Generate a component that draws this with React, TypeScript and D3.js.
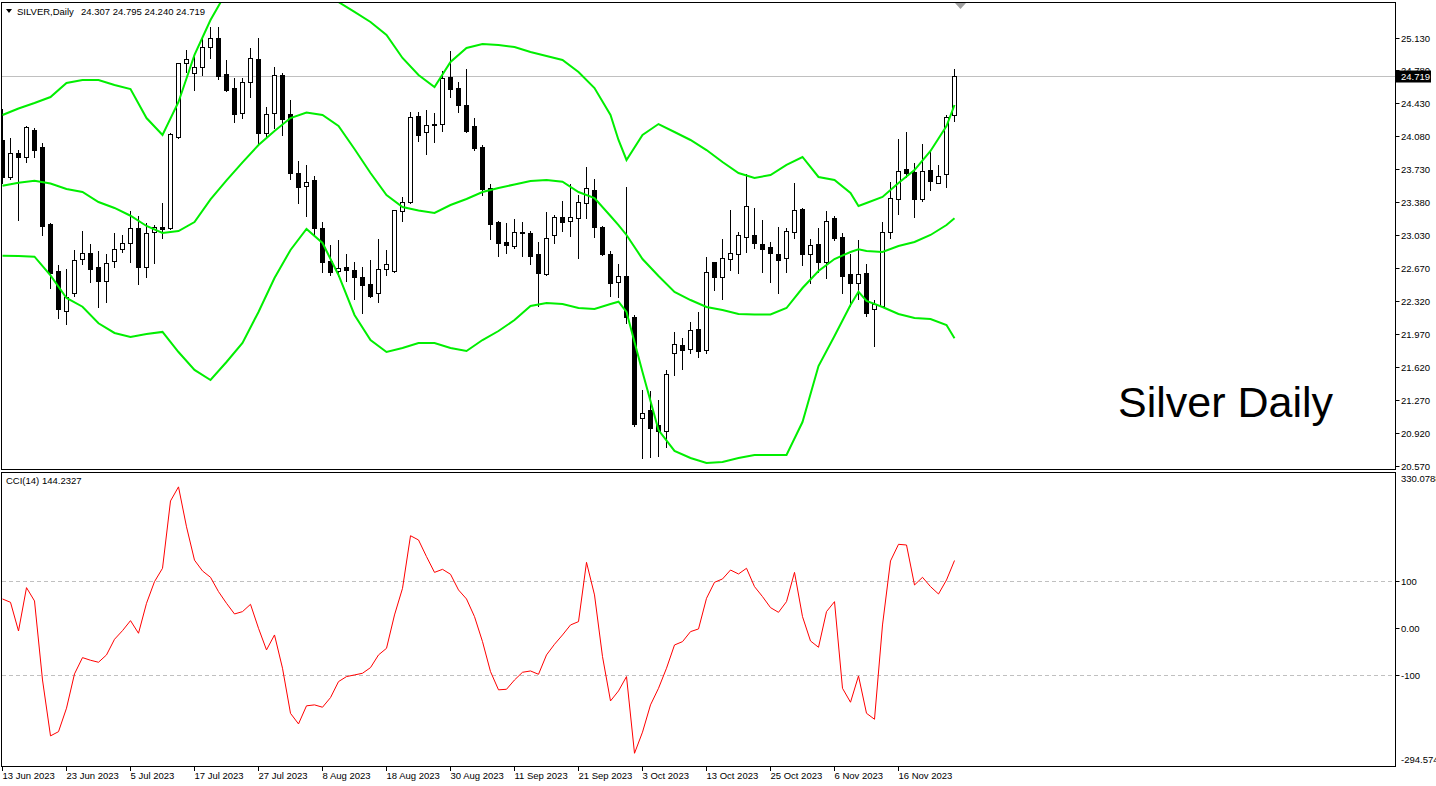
import * as d3 from 'd3';

// price data, one entry per daily bar (13 Jun 2023 .. 27 Nov 2023)
const opens = [
  24.038, 23.641, 23.903, 23.854, 24.144, 23.960, 23.143, 22.639, 22.219, 22.411,
  22.767, 22.831, 22.682, 22.539, 22.746, 22.873, 22.937, 23.097, 22.682, 23.055,
  23.114, 23.097, 24.073, 24.855, 24.755, 24.813, 25.032, 25.128, 24.741, 24.589,
  24.322, 24.659, 24.898, 24.109, 24.322, 24.730, 24.315, 23.683, 23.551, 23.612,
  23.097, 22.749, 22.646, 22.682, 22.653, 22.575, 22.504, 22.405, 22.660, 22.646,
  23.285, 23.381, 24.294, 24.120, 24.203, 24.205, 24.706, 24.589, 24.411, 24.187,
  23.963, 23.523, 23.161, 22.948, 22.909, 23.058, 23.044, 22.820, 22.607, 23.026,
  23.221, 23.172, 23.204, 23.364, 23.505, 23.108, 22.820, 22.522, 22.592, 22.149,
  21.073, 21.161, 20.998, 20.941, 21.765, 21.854, 21.808, 22.021, 21.801, 22.735,
  22.582, 22.773, 22.820, 23.008, 23.026, 22.930, 22.895, 22.823, 22.778, 23.061,
  23.300, 22.820, 22.927, 22.741, 23.204, 23.001, 22.607, 22.511, 22.618, 22.234,
  22.269, 23.061, 23.406, 23.726, 23.694, 23.406, 23.718, 23.583, 23.673, 24.307,
];
const highs = [
  24.365, 24.056, 23.931, 24.187, 24.163, 24.003, 23.150, 22.706, 22.664, 22.866,
  23.068, 22.930, 22.855, 22.823, 23.044, 23.026, 23.282, 23.228, 23.150, 23.132,
  23.370, 24.109, 24.862, 24.997, 24.919, 25.146, 25.245, 25.245, 24.890, 24.699,
  24.695, 25.015, 25.121, 24.386, 24.819, 24.749, 24.464, 23.814, 23.772, 23.654,
  23.161, 22.919, 22.973, 22.823, 22.735, 22.682, 22.760, 22.983, 22.866, 23.297,
  23.434, 24.339, 24.339, 24.358, 24.329, 24.773, 24.986, 24.659, 24.794, 24.269,
  23.985, 23.569, 23.175, 23.150, 23.193, 23.164, 23.068, 22.948, 23.268, 23.239,
  23.391, 23.566, 23.452, 23.747, 23.622, 23.122, 22.859, 22.714, 23.534, 22.174,
  21.374, 21.364, 21.268, 21.588, 21.992, 21.925, 22.096, 22.209, 22.788, 22.738,
  22.983, 23.292, 23.055, 23.673, 23.310, 23.186, 22.954, 23.108, 23.097, 23.577,
  23.310, 22.980, 23.097, 23.282, 23.228, 23.044, 22.823, 22.973, 22.717, 22.333,
  23.161, 23.587, 24.049, 24.126, 23.790, 23.995, 23.921, 23.772, 24.304, 24.795,
];
const lows = [
  23.577, 23.622, 23.186, 23.807, 23.860, 23.026, 22.464, 22.145, 22.078, 22.376,
  22.714, 22.528, 22.256, 22.315, 22.682, 22.848, 22.741, 22.501, 22.582, 22.724,
  22.991, 23.087, 24.062, 24.766, 24.571, 24.730, 24.908, 24.685, 24.563, 24.233,
  24.269, 24.491, 24.003, 24.081, 24.163, 24.091, 23.619, 23.370, 23.231, 23.037,
  22.635, 22.600, 22.589, 22.539, 22.341, 22.198, 22.362, 22.315, 22.600, 22.635,
  23.178, 23.370, 24.031, 23.889, 24.020, 24.137, 24.499, 24.339, 24.126, 23.931,
  23.452, 22.980, 22.805, 22.831, 22.884, 22.805, 22.714, 22.273, 22.600, 22.937,
  23.068, 23.018, 22.784, 23.204, 23.008, 22.813, 22.379, 22.369, 22.085, 20.994,
  20.653, 20.664, 20.675, 20.770, 21.534, 21.598, 21.765, 21.723, 21.772, 22.440,
  22.341, 22.653, 22.618, 22.848, 22.884, 22.635, 22.528, 22.411, 22.635, 22.997,
  22.706, 22.511, 22.628, 22.564, 22.973, 22.405, 22.273, 22.341, 22.163, 21.846,
  22.262, 22.997, 23.250, 23.641, 23.214, 23.391, 23.505, 23.577, 23.534, 24.240,
];
const closes = [
  23.641, 23.896, 23.854, 24.173, 23.931, 23.125, 22.624, 22.234, 22.369, 22.760,
  22.831, 22.660, 22.539, 22.724, 22.880, 22.937, 23.097, 22.688, 23.044, 23.114,
  23.093, 24.099, 24.855, 24.898, 24.813, 25.032, 25.130, 24.720, 24.571, 24.320,
  24.661, 24.908, 24.109, 24.315, 24.730, 24.262, 23.690, 23.540, 23.594, 23.097,
  22.741, 22.635, 22.671, 22.653, 22.575, 22.493, 22.376, 22.660, 22.714, 23.292,
  23.374, 24.280, 24.091, 24.198, 24.208, 24.695, 24.581, 24.411, 24.137, 23.956,
  23.513, 23.140, 22.937, 22.916, 23.055, 23.044, 22.805, 22.618, 22.991, 23.221,
  23.168, 23.214, 23.374, 23.523, 23.108, 22.820, 22.518, 22.592, 22.155, 21.012,
  21.126, 20.973, 20.941, 21.545, 21.865, 21.801, 22.014, 21.793, 22.628, 22.582,
  22.778, 22.831, 23.026, 23.335, 22.944, 22.880, 22.831, 22.760, 23.072, 23.289,
  22.820, 22.916, 22.741, 23.172, 22.997, 22.592, 22.518, 22.607, 22.198, 22.288,
  23.061, 23.417, 23.711, 23.690, 23.406, 23.711, 23.604, 23.654, 24.286, 24.719,
];

// Bollinger bands read at these bar indices
const bandIdx = [
  0, 2, 4, 6, 8, 10, 12, 14, 16, 18, 20, 22, 24, 26, 28, 30, 32, 34, 36, 38,
  40, 42, 44, 46, 48, 50, 52, 54, 56, 58, 60, 62, 64, 66, 68, 70, 72, 74, 76, 77,
  78, 80, 82, 84, 86, 88, 90, 92, 94, 96, 98, 100, 102, 104, 106, 107, 108, 110, 112, 114,
  116, 118, 119,
];
const upperBand = [
  24.304, 24.374, 24.432, 24.496, 24.645, 24.677, 24.677, 24.624, 24.581, 24.272,
  24.091, 24.443, 24.944, 25.316, 25.615, 25.849, 26.009, 26.062, 26.041, 25.956,
  25.764, 25.508, 25.402, 25.295, 25.157, 24.912, 24.730, 24.603, 24.869, 25.018,
  25.061, 25.050, 25.029, 24.976, 24.933, 24.890, 24.762, 24.592, 24.304, 24.038,
  23.825, 24.091, 24.208, 24.123, 24.038, 23.931, 23.804, 23.686, 23.633, 23.665,
  23.772, 23.857, 23.644, 23.612, 23.473, 23.335, 23.367, 23.431, 23.580, 23.718,
  23.921, 24.187, 24.411,
];
const middleBand = [
  23.551, 23.583, 23.604, 23.575, 23.516, 23.484, 23.377, 23.314, 23.231, 23.122,
  23.047, 23.068, 23.164, 23.406, 23.608, 23.800, 23.985, 24.134, 24.272, 24.331,
  24.304, 24.187, 23.942, 23.686, 23.452, 23.324, 23.287, 23.260, 23.345, 23.409,
  23.484, 23.527, 23.564, 23.601, 23.612, 23.594, 23.484, 23.420, 23.228, 23.132,
  23.026, 22.770, 22.589, 22.419, 22.333, 22.259, 22.227, 22.184, 22.179, 22.179,
  22.248, 22.461, 22.642, 22.770, 22.845, 22.873, 22.855, 22.845, 22.909, 22.951,
  23.026, 23.132, 23.204,
];
const lowerBand = [
  22.805, 22.802, 22.795, 22.596, 22.355, 22.262, 22.085, 21.982, 21.939, 21.971,
  21.993, 21.779, 21.588, 21.481, 21.673, 21.875, 22.206, 22.568, 22.866, 23.090,
  22.941, 22.600, 22.174, 21.907, 21.779, 21.822, 21.875, 21.875, 21.822, 21.790,
  21.907, 22.003, 22.120, 22.269, 22.301, 22.291, 22.248, 22.237, 22.291, 22.315,
  22.206, 21.566, 20.948, 20.725, 20.650, 20.597, 20.607, 20.650, 20.682, 20.682,
  20.682, 21.033, 21.630, 21.950, 22.280, 22.422, 22.323, 22.259, 22.184, 22.142,
  22.131, 22.067, 21.925,
];

// CCI(14), one value per bar
const cci = [
  62.4, 55.3, -5.7, 86.5, 58.2, -110, -229, -220, -170, -97,
  -62.4, -68, -72.3, -56.7, -23.4, -5, 16.3, -10.6, 53.2, 99.3,
  127.7, 271, 301, 216, 145, 122, 108.5, 78, 53.2, 30.5,
  35.5, 51, 0, -46, -14.2, -85, -181, -203.5, -165, -163,
  -168, -147.5, -113.5, -102.8, -99.3, -95.7, -83.7, -56.7, -42.6, 28.4,
  85, 197, 188, 152.5, 119, 125.5, 115, 81.6, 62.4, 24.8,
  -28.4, -92.2, -131, -129.8, -110, -93.6, -90.8, -97.9, -56.7, -34,
  -14.2, 7.1, 14.2, 140.4, 71, -60.3, -154.6, -133.3, -102.8, -266,
  -221, -163, -127.7, -85, -35.5, -28.4, -7.1, -1.4, 63.8, 97.9,
  105, 124, 115.6, 127.7, 88.7, 67.4, 44, 34, 56.7, 119,
  24.8, -27, -40.4, 35.5, 56.7, -127.7, -157.4, -101.4, -180.9, -193.6,
  7.1, 143.3, 178.7, 177.3, 92.2, 108.5, 88.7, 73, 102.8, 144.2327,
];

const priceTicks = [25.13, 24.78, 24.43, 24.08, 23.73, 23.38, 23.03, 22.67, 22.32, 21.97, 21.62, 21.27, 20.92, 20.57];
const cciLevels = [100, 0, -100];
const cciLevelLabels = ['100', '0.00', '-100'];
const cciMax = 330.0788;
const cciMin = -294.5745;
const dateIdx = [0, 8, 16, 24, 32, 40, 48, 56, 64, 72, 80, 88, 96, 104, 112];
const dateLabels = [
  '13 Jun 2023', '23 Jun 2023', '5 Jul 2023', '17 Jul 2023', '27 Jul 2023',
  '8 Aug 2023', '18 Aug 2023', '30 Aug 2023', '11 Sep 2023', '21 Sep 2023',
  '3 Oct 2023', '13 Oct 2023', '25 Oct 2023', '6 Nov 2023', '16 Nov 2023',
];
const lastPrice = 24.719;

const FONT = '"Liberation Sans", Arial, sans-serif';
const GREEN = '#00ee00';

export default function App() {
  const W = 1436;
  const H = 786;
  const right = 1395.5;

  const x = d3.scaleLinear().domain([0, 119]).range([2.5, 954.5]);
  const y = d3.scaleLinear().domain([20.57, 25.13]).range([465.5, 37.5]);
  const yc = d3.scaleLinear().domain([cciMin, cciMax]).range([766.7, 473.2]);

  const bandLine = d3.line<number>()
    .x((_, k) => x(bandIdx[k]))
    .y(d => y(d));
  const cciLine = d3.line<number>()
    .x((_, i) => x(i))
    .y(d => yc(d));

  const lastY = Math.round(y(lastPrice)) + 0.5;

  return (
    <svg width={W} height={H} style={{ position: 'absolute', left: 0, top: 0, background: '#fff' }}
      fontFamily={FONT}>
      <defs>
        <clipPath id="mainClip"><rect x={2} y={3} width={1393} height={466} /></clipPath>
        <clipPath id="cciClip"><rect x={2} y={473} width={1393} height={293} /></clipPath>
      </defs>
      <rect x={0} y={0} width={W} height={H} fill="#fff" />

      {/* main price panel */}
      <g clipPath="url(#mainClip)">
        <line x1={2} x2={right} y1={lastY} y2={lastY} stroke="#c0c0c0" />
        {opens.map((o, i) => {
          const c = closes[i];
          const cx = x(i);
          const top = Math.round(y(Math.max(o, c))) + 0.5;
          const bot = Math.round(y(Math.min(o, c))) + 0.5;
          return (
            <g key={i}>
              <line x1={cx} x2={cx} y1={Math.round(y(highs[i]))} y2={Math.round(y(lows[i])) + 1}
                stroke="#000" />
              <rect x={cx - 2} y={top} width={4} height={bot - top}
                fill={c >= o ? '#fff' : '#000'} stroke="#000" />
            </g>
          );
        })}
        {[upperBand, middleBand, lowerBand].map((b, k) => (
          <path key={k} d={bandLine(b) || ''} fill="none" stroke={GREEN} strokeWidth={2} />
        ))}
      </g>
      <polygon points="955,3 966,3 960.5,9" fill="#a0a0a0" />
      <rect x={1.5} y={2.5} width={right - 1.5} height={467} fill="none" stroke="#000" />

      {/* header */}
      <polygon points="6,9 12,9 9,13" fill="#000" />
      <text x={17} y={15} fontSize={9.5}>SILVER,Daily</text>
      <text x={81} y={15} fontSize={9.5}>24.307 24.795 24.240 24.719</text>
      <text x={1118} y={417} fontSize={43}>Silver Daily</text>

      {/* price axis */}
      {priceTicks.map(p => {
        const py = Math.round(y(p)) + 0.5;
        return (
          <g key={p}>
            <line x1={right} x2={right + 4} y1={py} y2={py} stroke="#000" />
            <text x={1401} y={py + 3.5} fontSize={9.5}>{p.toFixed(3)}</text>
          </g>
        );
      })}
      <rect x={1396} y={lastY - 6} width={35} height={12} fill="#000" />
      <text x={1401} y={lastY + 3.5} fontSize={9.5} fill="#fff">{lastPrice.toFixed(3)}</text>

      {/* CCI panel */}
      <g clipPath="url(#cciClip)">
        {cciLevels.filter(v => v !== 0).map(v => {
          const ly = Math.round(yc(v)) + 0.5;
          return <line key={v} x1={2} x2={right} y1={ly} y2={ly} stroke="#c0c0c0" strokeDasharray="4,3" />;
        })}
        <path d={cciLine(cci) || ''} fill="none" stroke="#ff0000" strokeWidth={1} />
      </g>
      <rect x={1.5} y={472.5} width={right - 1.5} height={294} fill="none" stroke="#000" />
      <text x={6} y={484} fontSize={9.5}>CCI(14) 144.2327</text>
      <text x={1401} y={482} fontSize={9.5}>{cciMax.toFixed(4)}</text>
      <text x={1401} y={763} fontSize={9.5}>{cciMin.toFixed(4)}</text>
      {cciLevels.map((v, k) => {
        const ly = Math.round(yc(v)) + 0.5;
        return (
          <g key={v}>
            <line x1={right} x2={right + 4} y1={ly} y2={ly} stroke="#000" />
            <text x={1401} y={ly + 3.5} fontSize={9.5}>{cciLevelLabels[k]}</text>
          </g>
        );
      })}

      {/* time axis */}
      {dateIdx.map((d, k) => {
        const tx = x(d);
        return (
          <g key={d}>
            <line x1={tx} x2={tx} y1={767} y2={771} stroke="#000" />
            <text x={tx} y={779} fontSize={9.5}>{dateLabels[k]}</text>
          </g>
        );
      })}
    </svg>
  );
}
